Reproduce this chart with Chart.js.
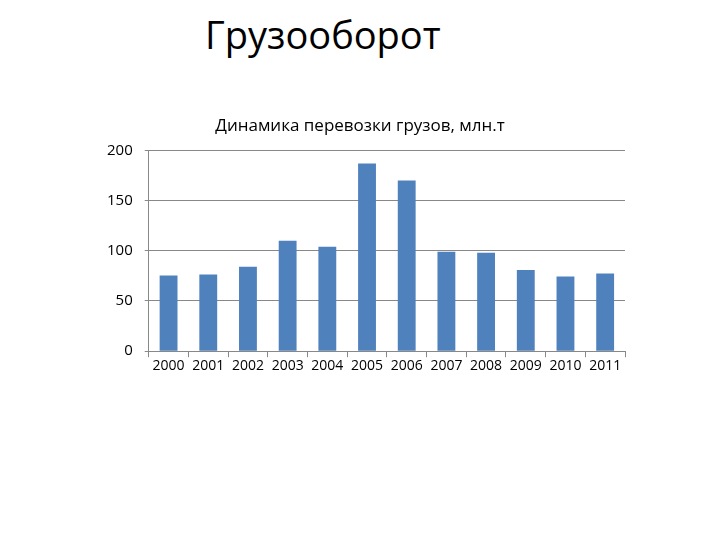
<!DOCTYPE html>
<html><head><meta charset="utf-8">
<script src="https://cdn.jsdelivr.net/npm/chart.js@4"></script>
<style>
body{margin:0;background:#fff;width:720px;height:540px;position:relative;overflow:hidden}
#h{position:absolute;left:0;width:720px;top:8px;text-align:center;font-family:'Open Sans',sans-serif;font-size:38px;color:#000;padding-left:0}
#h span{position:absolute;left:205px}
#c{position:absolute;left:0;top:0}
</style></head><body>
<div id="h"><span>Грузооборот</span></div>
<canvas id="c" width="720" height="540"></canvas>
<script>
const categories=['2000','2001','2002','2003','2004','2005','2006','2007','2008','2009','2010','2011'];
const values=[75.5,76.5,84,110,104,187,170,99,98,81,74.5,77.5];
const yTicks=[0,50,100,150,200];
new Chart(document.getElementById('c'),{type:'bar',
data:{labels:categories,datasets:[{data:values,backgroundColor:'#4f81bd',categoryPercentage:1,barPercentage:0.45}]},
options:{responsive:false,animation:false,
layout:{padding:{left:95,right:95,top:116,bottom:166}},
plugins:{legend:{display:false},tooltip:{enabled:false},
title:{display:true,text:'Динамика перевозки грузов, млн.т',color:'#000',font:{family:'Open Sans',size:17,weight:'normal'},padding:{top:0,bottom:14}}},
scales:{
x:{grid:{display:true,drawOnChartArea:false,color:'#888',tickLength:6,offset:true},border:{color:'#888'},ticks:{color:'#000',font:{family:'Open Sans',size:14},maxRotation:0,autoSkip:false,padding:0}},
y:{min:0,max:200,afterBuildTicks:a=>{a.ticks=yTicks.map(v=>({value:v}))},grid:{color:'#888',tickLength:4},border:{display:true,color:'#888'},ticks:{color:'#000',font:{family:'Open Sans',size:15},padding:12}}
}}});
</script></body></html>
